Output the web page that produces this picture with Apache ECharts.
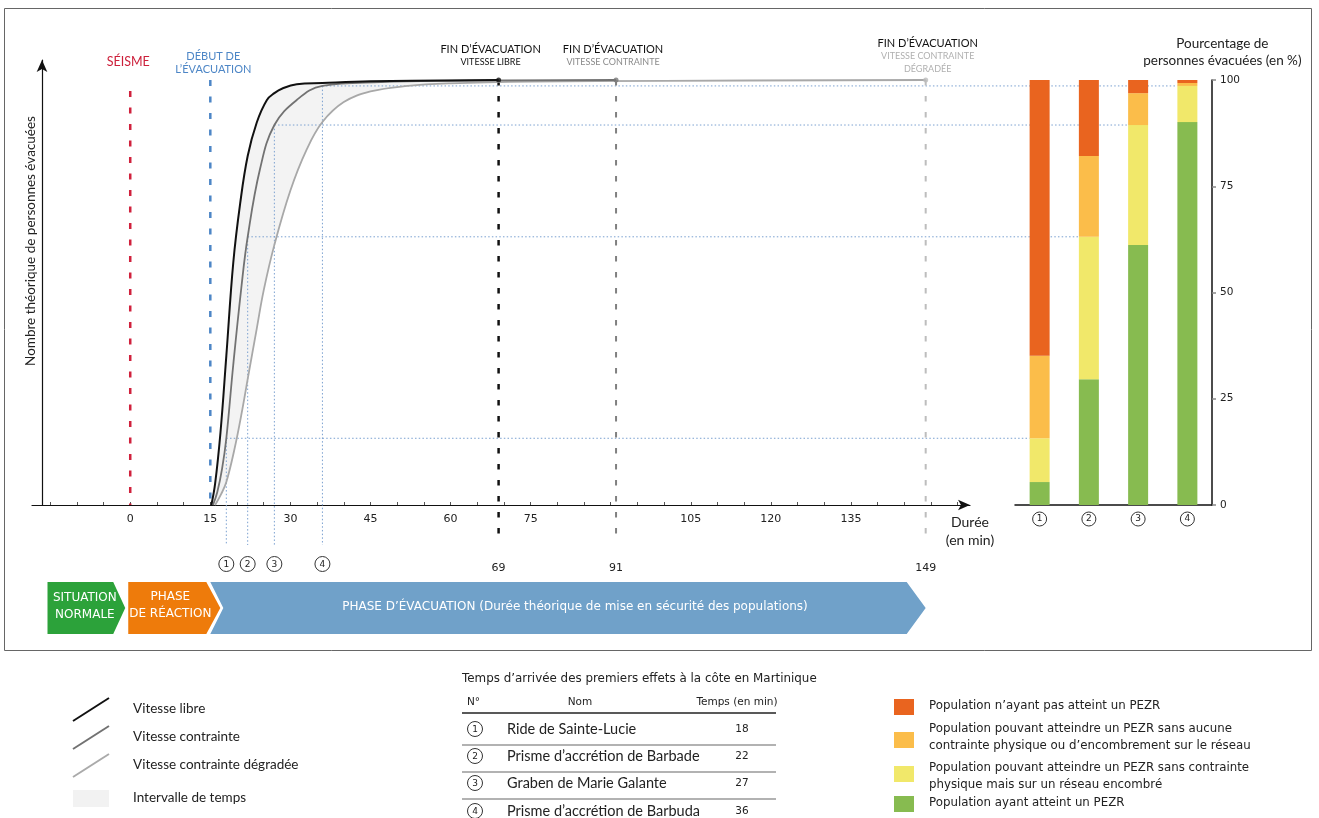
<!DOCTYPE html>
<html>
<head>
<meta charset="utf-8">
<script src="https://cdn.jsdelivr.net/npm/echarts@6/dist/echarts.min.js"></script>
<style>
  html, body { margin: 0; padding: 0; background: #fff; }
  #chart { width: 1319px; height: 818px; }
</style>
</head>
<body>
<div id="chart"></div>
<script>
// courbes d'évacuation : temps (min) / personnes évacuées (%)
const tLibre = [15.2, 15.9, 16.9, 18, 19.3, 20.6, 22, 23.7, 25.6, 27, 28.5, 31.2, 36, 45, 69];
const vLibre = [0, 5, 17, 35.1, 57, 71, 82.1, 90, 95.3, 96.9, 98, 99, 99.3, 99.7, 100];
const tContrainte = [15.5, 16.3, 17.2, 18, 19.3, 20.8, 22, 24.3, 27, 31.2, 36, 47, 60, 91];
const vContrainte = [0, 3, 8.5, 15.7, 33, 51, 63.1, 79, 89.4, 95.3, 98.6, 99.5, 99.8, 100];
const tDegradee = [15.9, 17, 18, 19.5, 21, 22, 23.7, 25, 27, 30, 33, 36, 40, 45, 52, 60, 75, 100, 149];
const vDegradee = [0, 2.5, 5.4, 13, 22.5, 29.6, 41.5, 50.5, 61.2, 74, 83.5, 90.1, 94.8, 97.3, 98.6, 99.2, 99.6, 99.8, 100];

const tSeisme = 0;
const tDebut = 15;
const finTimes = [69, 91, 149];
const finSub = [['VITESSE LIBRE'], ['VITESSE CONTRAINTE'], ['VITESSE CONTRAINTE', 'DÉGRADÉE']];

const xTickValues = [-15, -10, -5, 0, 5, 10, 15, 20, 25, 30, 35, 40, 45, 50, 55, 60, 65, 70, 75, 80, 85, 90, 95, 100, 105, 110, 115, 120, 125, 130, 135, 140, 145, 150, 155];
const xLabelValues = [0, 15, 30, 45, 60, 75, 105, 120, 135];

// temps d'arrivée des premiers effets
const arrivalNum = ['1', '2', '3', '4'];
const arrivalNames = ['Ride de Sainte-Lucie', 'Prisme d’accrétion de Barbade', 'Graben de Marie Galante', 'Prisme d’accrétion de Barbuda'];
const arrivalTimes = [18, 22, 27, 36];

// pourcentages empilés (barres)
const pctAtteint = [5.4, 29.6, 61.2, 90.1];
const pctEncombre = [10.3, 33.5, 28.2, 8.5];
const pctSansContrainte = [19.4, 19.0, 7.5, 0.7];
const pctNonAtteint = [64.9, 17.9, 3.1, 0.7];

const FONT = 'Lato, "Open Sans", sans-serif';
const NUMFONT = '"DejaVu Sans", sans-serif';
const RED = '#e9641f', ORANGE = '#fbbd4a', YELLOW = '#f1e86a', GREEN = '#87bb50';

const chart = echarts.init(document.getElementById('chart'));

function pairs(ts, vs) { return ts.map((t, i) => [t, vs[i]]); }

function barSeries(name, data, color) {
  return {
    name: name, type: 'bar', xAxisIndex: 1, yAxisIndex: 1, stack: 'pct',
    barWidth: 20, data: data, itemStyle: { color: color }, silent: true
  };
}

function curve(ts, vs, color, width, z) {
  return {
    type: 'line', data: pairs(ts, vs), showSymbol: false, smooth: 0.4,
    lineStyle: { color: color, width: width }, z: z, silent: true
  };
}

chart.setOption({
  animation: false,
  grid: [
    { left: 32, right: 349, top: 60, bottom: 313, outerBoundsMode: 'none' },
    { left: 1015, right: 107, top: 80, bottom: 313, outerBoundsMode: 'none' }
  ],
  xAxis: [
    {
      type: 'value', gridIndex: 0, min: -18.4, max: 157.3,
      axisLine: { onZero: false, symbol: ['none', 'arrow'], symbolSize: [8, 12], lineStyle: { color: '#111', width: 1.2 } },
      axisTick: { customValues: xTickValues, inside: true, length: 3, lineStyle: { color: '#555' } },
      axisLabel: { customValues: xLabelValues, fontFamily: NUMFONT, fontSize: 11, color: '#222', margin: 9 },
      splitLine: { show: false }
    },
    {
      type: 'category', gridIndex: 1, data: arrivalNum,
      axisLine: { lineStyle: { color: '#111', width: 1.5 } },
      axisTick: { show: false },
      axisLabel: {
        margin: 7,
        formatter: v => '{c|' + v + '}',
        rich: { c: { width: 14, height: 14, lineHeight: 14, borderRadius: 7, borderColor: '#333', borderWidth: 1, align: 'center', fontFamily: NUMFONT, fontSize: 9, color: '#222' } }
      }
    }
  ],
  yAxis: [
    {
      type: 'value', gridIndex: 0, min: 0, max: 104.7, offset: -10,
      axisLine: { show: true, onZero: false, symbol: ['none', 'arrow'], symbolSize: [8, 12], lineStyle: { color: '#111', width: 1.2 } },
      axisTick: { show: false }, axisLabel: { show: false }, splitLine: { show: false }
    },
    {
      type: 'value', gridIndex: 1, position: 'right', min: 0, max: 100, interval: 25,
      axisLine: { show: true, lineStyle: { color: '#111', width: 1.5 } },
      axisTick: { show: true, length: 4, lineStyle: { color: '#888', width: 1.5 } },
      axisLabel: { fontFamily: NUMFONT, fontSize: 10.5, color: '#222', margin: 8 },
      splitLine: { show: false }
    }
  ],
  series: [
    {
      type: 'custom', xAxisIndex: 0, yAxisIndex: 0, silent: true, z: 1, data: [[0, 0]],
      renderItem: (params, api) => ({
        type: 'polygon',
        shape: {
          points: tLibre.map((t, i) => api.coord([t, vLibre[i]]))
            .concat(tDegradee.map((t, i) => api.coord([t, vDegradee[i]])).reverse())
        },
        style: { fill: '#f3f3f3' }
      })
    },
    curve(tDegradee, vDegradee, '#a8a8a8', 1.8, 3),
    curve(tContrainte, vContrainte, '#727272', 1.8, 4),
    curve(tLibre, vLibre, '#111', 2, 5),
    {
      type: 'scatter', symbolSize: 5, z: 6, silent: true,
      data: finTimes.map((t, i) => ({ value: [t, 100], itemStyle: { color: ['#111', '#777', '#bbb'][i] } }))
    },
    barSeries('atteint', pctAtteint, GREEN),
    barSeries('encombre', pctEncombre, YELLOW),
    barSeries('sansContrainte', pctSansContrainte, ORANGE),
    barSeries('nonAtteint', pctNonAtteint, RED)
  ]
});

// ---- annotations placées avec les échelles du graphique ----
function px(t, v) { return chart.convertToPixel({ gridIndex: 0 }, [t, v]); }
function barPx(i, v) { return chart.convertToPixel({ gridIndex: 1 }, [i, v]); }

function txt(x, y, s, opt) {
  return { type: 'text', x: x, y: y, z: 10, silent: true,
    style: Object.assign({ text: s, fill: '#222', fontSize: 11, fontFamily: FONT, align: 'center', verticalAlign: 'middle' }, opt || {}) };
}
function seg(x1, y1, x2, y2, stroke, w, dash, z) {
  return { type: 'line', z: z || 2, silent: true, shape: { x1: x1, y1: y1, x2: x2, y2: y2 },
    style: { stroke: stroke, lineWidth: w, lineDash: dash || null } };
}
function circled(x, y, n) {
  return [
    { type: 'circle', z: 10, silent: true, shape: { cx: x, cy: y, r: 7.5 }, style: { fill: '#fff', stroke: '#333', lineWidth: 1 } },
    txt(x, y + 0.5, n, { fontFamily: NUMFONT, fontSize: 9 })
  ];
}
function poly(points, fill) {
  return { type: 'polygon', z: 2, silent: true, shape: { points: points }, style: { fill: fill } };
}

const g = [];
const axisY = px(0, 0)[1];

// cadre
g.push({ type: 'rect', z: 0, silent: true, shape: { x: 4.5, y: 8.5, width: 1307, height: 642 }, style: { fill: 'none', stroke: '#666', lineWidth: 1 } });

// titre axe vertical
g.push(Object.assign(txt(31, 241, 'Nombre théorique de personnes évacuées', { fontSize: 13.5 }), { rotation: Math.PI / 2 }));

// séisme et début d'évacuation
const xs = px(tSeisme, 0)[0], xd = px(tDebut, 0)[0];
g.push(seg(xs, px(0, 97.4)[1], xs, axisY, '#d0213c', 2.5, [6, 10.5]));
g.push(seg(xd, px(0, 100)[1], xd, axisY, '#4d86c6', 2.5, [6, 10.5]));
g.push(txt(xs - 2, 62, 'SÉISME', { fill: '#cc1f3a', fontSize: 12.5 }));
g.push(txt(xd + 3, 56, 'DÉBUT DE', { fill: '#4d86c6', fontSize: 11 }));
g.push(txt(xd + 3, 69, 'L’ÉVACUATION', { fill: '#4d86c6', fontSize: 11 }));

// fins d'évacuation
const finColors = ['#111', '#808080', '#bdbdbd'];
const finSubColors = ['#111', '#8a8a8a', '#b0b0b0'];
const finDx = [-8, -3, 2];
const finTop = [49, 49, 43];
finTimes.forEach((t, i) => {
  const x = px(t, 0)[0];
  g.push(seg(x, px(t, 100)[1], x, axisY + 38, finColors[i], i === 0 ? 2.5 : 2, [5.5, 10.5]));
  g.push(txt(x, axisY + 63, String(t), { fontFamily: NUMFONT, fontSize: 11 }));
  g.push(txt(x + finDx[i], finTop[i], 'FIN D’ÉVACUATION', { fill: '#111', fontSize: 11 }));
  finSub[i].forEach((s, k) => g.push(txt(x + finDx[i], finTop[i] + 13 * (k + 1), s, { fill: finSubColors[i], fontSize: 9 })));
});

// repères des temps d'arrivée
arrivalTimes.forEach((t, i) => {
  const cum = pctAtteint[i] + pctEncombre[i];
  const p = px(t, cum);
  const b = barPx(i, cum);
  g.push(seg(p[0], p[1], b[0] - 10, p[1], '#7aa0d0', 1, [1.5, 2.2], 1));
  g.push(seg(p[0], p[1], p[0], axisY + 40, '#7aa0d0', 1, [1.5, 2.2], 1));
  circled(p[0], axisY + 59, arrivalNum[i]).forEach(e => g.push(e));
});

// libellé axe des durées
const xEnd = px(157.3, 0)[0];
g.push(txt(xEnd, axisY + 17, 'Durée', { fontSize: 14 }));
g.push(txt(xEnd, axisY + 35, '(en min)', { fontSize: 14 }));

// titre des barres
const bx = barPx(3, 100)[0] + 35;
g.push(txt(bx, 44, 'Pourcentage de', { fontSize: 13.5 }));
g.push(txt(bx, 61, 'personnes évacuées (en %)', { fontSize: 13.5 }));

// phases
const phTop = 582, phBot = 634, phMid = 608;
const p0 = px(-15.5, 0)[0], p1 = px(0, 0)[0], p2 = px(15, 0)[0], p3 = px(149, 0)[0];
g.push(poly([[p0, phTop], [p1 - 17, phTop], [p1 - 5, phMid], [p1 - 17, phBot], [p0, phBot]], '#2ca23a'));
g.push(poly([[p1 - 2, phTop], [p2 - 4, phTop], [p2 + 10, phMid], [p2 - 4, phBot], [p1 - 2, phBot]], '#ee7b0b'));
g.push(poly([[p2, phTop], [p3 - 19, phTop], [p3, phMid], [p3 - 19, phBot], [p2, phBot], [p2 + 13, phMid]], '#70a1c9'));
const phFont = { fill: '#fff', fontSize: 12, fontFamily: NUMFONT };
g.push(txt((p0 + p1) / 2 - 4, 598, 'SITUATION', phFont));
g.push(txt((p0 + p1) / 2 - 4, 615, 'NORMALE', phFont));
g.push(txt((p1 + p2) / 2, 597, 'PHASE', phFont));
g.push(txt((p1 + p2) / 2, 614, 'DE RÉACTION', phFont));
g.push(txt(575, 607, 'PHASE D’ÉVACUATION (Durée théorique de mise en sécurité des populations)', phFont));

// légende des courbes
const curveLegend = [['Vitesse libre', '#111'], ['Vitesse contrainte', '#727272'], ['Vitesse contrainte dégradée', '#aaa']];
curveLegend.forEach((c, i) => {
  const y = 709 + 28 * i;
  g.push(seg(73, y + 12, 109, y - 11, c[1], 2));
  g.push(txt(133, y, c[0], { align: 'left', fontSize: 13.5 }));
});
g.push({ type: 'rect', z: 2, silent: true, shape: { x: 73, y: 790, width: 36, height: 17 }, style: { fill: '#f2f2f2' } });
g.push(txt(133, 798, 'Intervalle de temps', { align: 'left', fontSize: 13.5 }));

// tableau des temps d'arrivée
g.push(txt(462, 679, 'Temps d’arrivée des premiers effets à la côte en Martinique', { align: 'left', fontSize: 11.9, fontFamily: NUMFONT }));
g.push(txt(467, 702, 'N°', { align: 'left', fontSize: 10.5, fontFamily: NUMFONT }));
g.push(txt(580, 702, 'Nom', { fontSize: 10.5, fontFamily: NUMFONT }));
g.push(txt(737, 702, 'Temps (en min)', { fontSize: 10.5, fontFamily: NUMFONT }));
g.push(seg(462, 713, 776, 713, '#222', 1.5));
const rowY = [729, 756, 783, 811];
arrivalNames.forEach((n, i) => {
  circled(475, rowY[i], arrivalNum[i]).forEach(e => g.push(e));
  g.push(txt(507, rowY[i], n, { align: 'left', fontSize: 14.5 }));
  g.push(txt(742, rowY[i], String(arrivalTimes[i]), { fontFamily: NUMFONT, fontSize: 10.5 }));
  if (i < 3) g.push(seg(462, rowY[i] + 16, 776, rowY[i] + 16, '#999', 1.5));
});

// légende des barres
const barLegend = [
  [RED, 699, ['Population n’ayant pas atteint un PEZR'], 706],
  [ORANGE, 732, ['Population pouvant atteindre un PEZR sans aucune', 'contrainte physique ou d’encombrement sur le réseau'], 729],
  [YELLOW, 766, ['Population pouvant atteindre un PEZR sans contrainte', 'physique mais sur un réseau encombré'], 768],
  [GREEN, 796, ['Population ayant atteint un PEZR'], 803]
];
barLegend.forEach(l => {
  g.push({ type: 'rect', z: 2, silent: true, shape: { x: 894, y: l[1], width: 20, height: 16 }, style: { fill: l[0] } });
  l[2].forEach((s, k) => g.push(txt(929, l[3] + 17 * k, s, { align: 'left', fontSize: 11.8, fontFamily: NUMFONT })));
});

chart.setOption({ graphic: { elements: g } });
</script>
</body>
</html>
